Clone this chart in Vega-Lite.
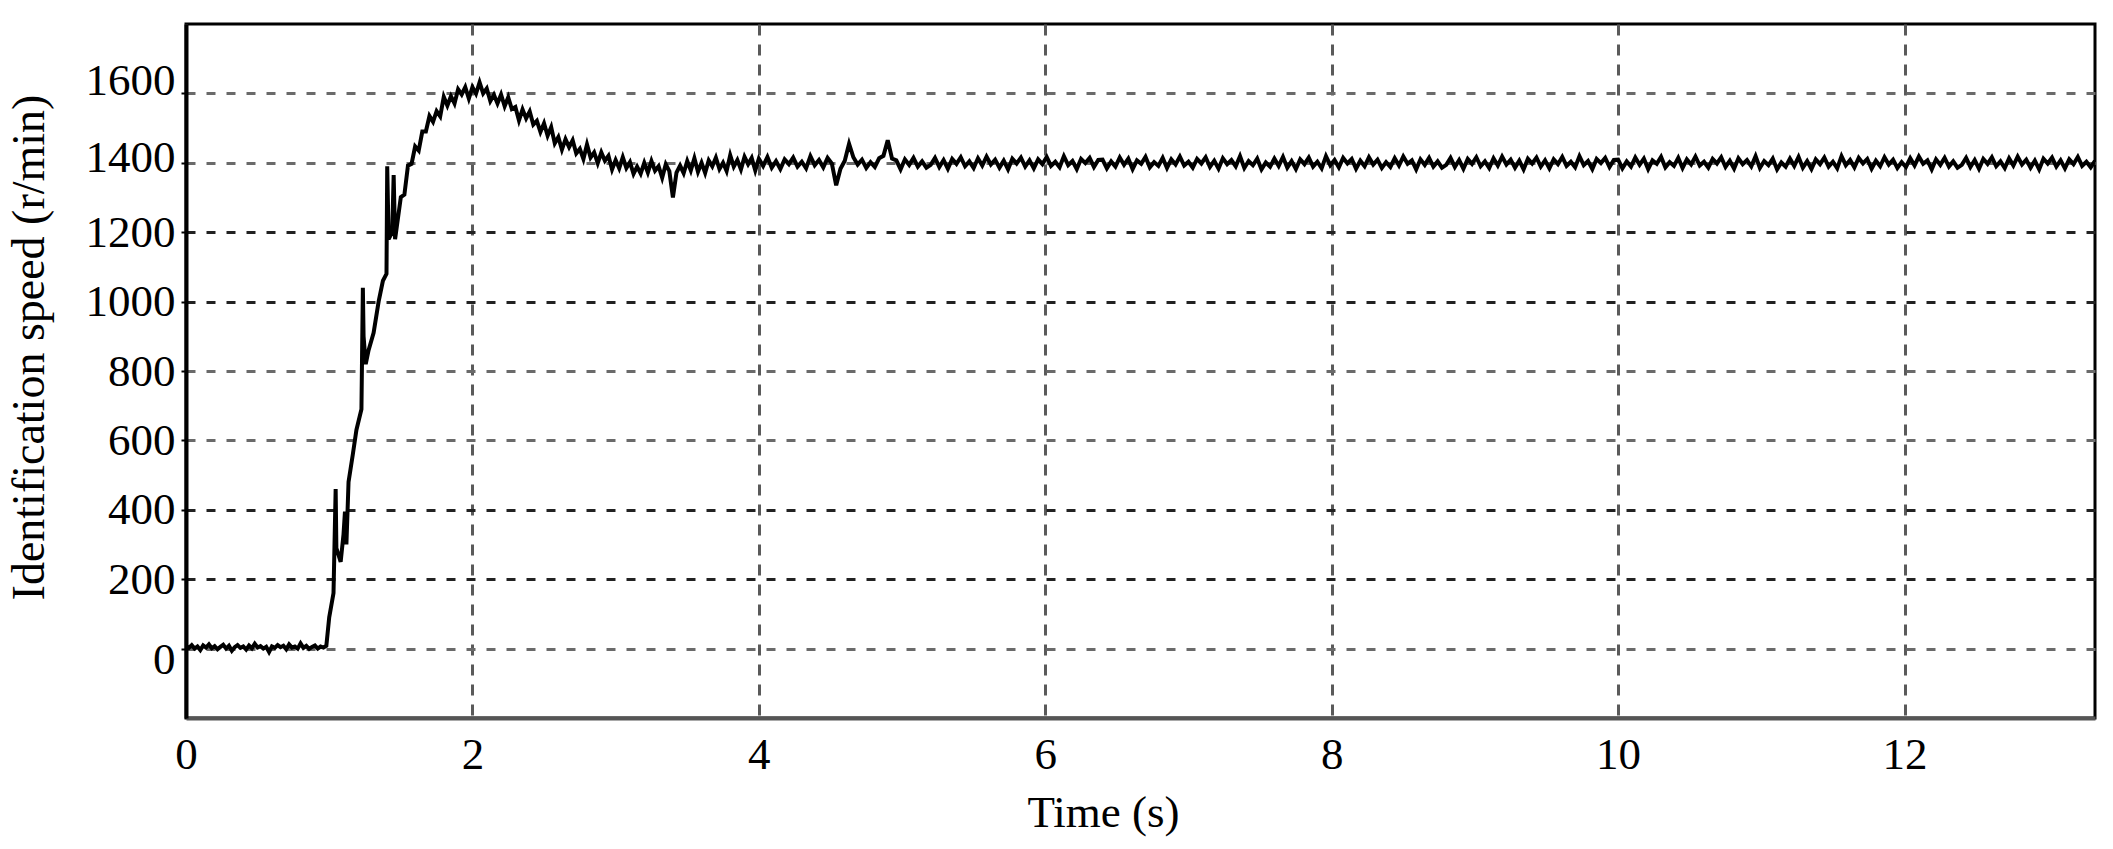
{
  "$schema": "https://vega.github.io/schema/vega-lite/v6.json",
  "width": 1909,
  "height": 694,
  "autosize": {"type": "none"},
  "padding": {"left": 186, "top": 24, "right": 18, "bottom": 131},
  "background": "white",
  "config": {
    "view": {"stroke": "black", "strokeWidth": 3},
    "font": "Liberation Serif"
  },
  "data": {
    "values": [
      {"t":0.00,"v":8},{"t":0.02,"v":2},{"t":0.04,"v":10},{"t":0.06,"v":0},{"t":0.08,"v":6},{"t":0.10,"v":-4},{"t":0.12,"v":9},{"t":0.14,"v":3},{"t":0.16,"v":12},{"t":0.18,"v":1},
      {"t":0.20,"v":7},{"t":0.22,"v":-2},{"t":0.24,"v":5},{"t":0.26,"v":11},{"t":0.28,"v":0},{"t":0.30,"v":8},{"t":0.32,"v":-6},{"t":0.34,"v":4},{"t":0.36,"v":10},{"t":0.38,"v":2},
      {"t":0.40,"v":6},{"t":0.42,"v":-3},{"t":0.44,"v":9},{"t":0.46,"v":1},{"t":0.48,"v":14},{"t":0.50,"v":3},{"t":0.52,"v":7},{"t":0.54,"v":0},{"t":0.56,"v":5},{"t":0.58,"v":-10},
      {"t":0.60,"v":6},{"t":0.62,"v":2},{"t":0.64,"v":10},{"t":0.66,"v":4},{"t":0.68,"v":8},{"t":0.70,"v":-2},{"t":0.72,"v":12},{"t":0.74,"v":3},{"t":0.76,"v":6},{"t":0.78,"v":0},
      {"t":0.80,"v":15},{"t":0.82,"v":2},{"t":0.84,"v":8},{"t":0.86,"v":-1},{"t":0.88,"v":5},{"t":0.90,"v":9},{"t":0.92,"v":0},{"t":0.94,"v":6},{"t":0.96,"v":3},{"t":0.98,"v":8},
      {"t":1.00,"v":90},{"t":1.03,"v":160},{"t":1.045,"v":460},{"t":1.05,"v":290},{"t":1.08,"v":250},{"t":1.10,"v":330},{"t":1.11,"v":395},{"t":1.12,"v":300},{"t":1.135,"v":480},{"t":1.165,"v":560},
      {"t":1.19,"v":630},{"t":1.225,"v":690},{"t":1.235,"v":1040},{"t":1.24,"v":900},{"t":1.255,"v":820},{"t":1.275,"v":860},{"t":1.31,"v":910},{"t":1.345,"v":1000},{"t":1.375,"v":1060},{"t":1.40,"v":1080},
      {"t":1.405,"v":1390},{"t":1.415,"v":1180},{"t":1.44,"v":1200},{"t":1.45,"v":1365},{"t":1.46,"v":1180},{"t":1.48,"v":1240},
      {"t":1.500,"v":1301},{"t":1.525,"v":1308},{"t":1.550,"v":1392},{"t":1.575,"v":1397},{"t":1.600,"v":1447},{"t":1.625,"v":1435},{"t":1.650,"v":1490},{"t":1.675,"v":1490},{"t":1.700,"v":1535},{"t":1.725,"v":1518},
      {"t":1.750,"v":1549},{"t":1.775,"v":1534},{"t":1.800,"v":1590},{"t":1.825,"v":1565},{"t":1.850,"v":1592},{"t":1.875,"v":1571},{"t":1.900,"v":1612},{"t":1.925,"v":1597},{"t":1.950,"v":1618},{"t":1.975,"v":1585},
      {"t":2.000,"v":1618},{"t":2.025,"v":1599},{"t":2.050,"v":1632},{"t":2.075,"v":1600},{"t":2.100,"v":1614},{"t":2.125,"v":1578},{"t":2.150,"v":1596},{"t":2.175,"v":1571},{"t":2.200,"v":1597},{"t":2.225,"v":1563},
      {"t":2.250,"v":1589},{"t":2.275,"v":1555},{"t":2.300,"v":1561},{"t":2.325,"v":1522},{"t":2.350,"v":1554},{"t":2.375,"v":1528},{"t":2.400,"v":1548},{"t":2.425,"v":1510},{"t":2.450,"v":1521},{"t":2.475,"v":1489},
      {"t":2.500,"v":1514},{"t":2.525,"v":1478},{"t":2.550,"v":1503},{"t":2.575,"v":1456},{"t":2.600,"v":1474},{"t":2.625,"v":1438},{"t":2.650,"v":1468},{"t":2.675,"v":1445},{"t":2.700,"v":1465},{"t":2.725,"v":1427},
      {"t":2.750,"v":1440},{"t":2.775,"v":1411},{"t":2.800,"v":1453},{"t":2.825,"v":1415},{"t":2.850,"v":1430},{"t":2.875,"v":1399},{"t":2.900,"v":1430},{"t":2.925,"v":1406},{"t":2.950,"v":1420},{"t":2.975,"v":1381},
      {"t":3.000,"v":1408},{"t":3.025,"v":1384},{"t":3.050,"v":1416},{"t":3.075,"v":1385},{"t":3.100,"v":1402},{"t":3.125,"v":1368},{"t":3.150,"v":1389},{"t":3.175,"v":1369},{"t":3.200,"v":1400},{"t":3.225,"v":1372},
      {"t":3.250,"v":1405},{"t":3.275,"v":1377},{"t":3.300,"v":1390},{"t":3.325,"v":1357},{"t":3.350,"v":1396},{"t":3.375,"v":1376},{"t":3.400,"v":1300},{"t":3.425,"v":1372},{"t":3.450,"v":1392},{"t":3.475,"v":1370},
      {"t":3.500,"v":1405},{"t":3.525,"v":1378},{"t":3.550,"v":1413},{"t":3.575,"v":1374},{"t":3.600,"v":1400},{"t":3.625,"v":1371},{"t":3.650,"v":1407},{"t":3.675,"v":1390},{"t":3.700,"v":1415},{"t":3.725,"v":1382},
      {"t":3.750,"v":1400},{"t":3.775,"v":1376},{"t":3.800,"v":1422},{"t":3.825,"v":1389},{"t":3.850,"v":1408},{"t":3.875,"v":1381},{"t":3.900,"v":1417},{"t":3.925,"v":1396},{"t":3.950,"v":1414},{"t":3.975,"v":1378},
      {"t":4.00,"v":1412},{"t":4.03,"v":1391},{"t":4.06,"v":1417},{"t":4.09,"v":1386},{"t":4.12,"v":1405},{"t":4.15,"v":1382},{"t":4.18,"v":1410},{"t":4.21,"v":1396},{"t":4.24,"v":1415},{"t":4.27,"v":1389},
      {"t":4.30,"v":1403},{"t":4.33,"v":1384},{"t":4.36,"v":1419},{"t":4.39,"v":1393},{"t":4.42,"v":1408},{"t":4.45,"v":1387},{"t":4.48,"v":1414},{"t":4.51,"v":1398},{"t":4.54,"v":1335},{"t":4.57,"v":1383},
      {"t":4.60,"v":1406},{"t":4.63,"v":1455},{"t":4.66,"v":1416},{"t":4.69,"v":1395},{"t":4.72,"v":1409},{"t":4.75,"v":1385},{"t":4.78,"v":1402},{"t":4.81,"v":1388},{"t":4.84,"v":1413},{"t":4.87,"v":1420},
      {"t":4.90,"v":1465},{"t":4.93,"v":1412},{"t":4.96,"v":1407},{"t":4.99,"v":1381},{"t":5.02,"v":1410},{"t":5.05,"v":1394},{"t":5.08,"v":1414},{"t":5.11,"v":1389},{"t":5.14,"v":1404},{"t":5.17,"v":1386},
      {"t":5.20,"v":1394},{"t":5.23,"v":1414},{"t":5.26,"v":1388},{"t":5.29,"v":1408},{"t":5.32,"v":1383},{"t":5.35,"v":1411},{"t":5.38,"v":1397},{"t":5.41,"v":1416},{"t":5.44,"v":1390},{"t":5.47,"v":1404},
      {"t":5.50,"v":1385},{"t":5.53,"v":1413},{"t":5.56,"v":1392},{"t":5.59,"v":1418},{"t":5.62,"v":1395},{"t":5.65,"v":1409},{"t":5.68,"v":1386},{"t":5.71,"v":1406},{"t":5.74,"v":1381},{"t":5.77,"v":1412},
      {"t":5.80,"v":1398},{"t":5.83,"v":1415},{"t":5.86,"v":1389},{"t":5.89,"v":1407},{"t":5.92,"v":1384},{"t":5.95,"v":1410},{"t":5.98,"v":1396},{"t":6.01,"v":1417},{"t":6.04,"v":1391},{"t":6.07,"v":1403},
      {"t":6.10,"v":1387},{"t":6.13,"v":1419},{"t":6.16,"v":1393},{"t":6.19,"v":1405},{"t":6.22,"v":1382},{"t":6.25,"v":1411},{"t":6.28,"v":1399},{"t":6.31,"v":1414},{"t":6.34,"v":1388},{"t":6.37,"v":1408},
      {"t":6.40,"v":1409},{"t":6.43,"v":1384},{"t":6.46,"v":1404},{"t":6.49,"v":1389},{"t":6.52,"v":1415},{"t":6.55,"v":1394},{"t":6.58,"v":1412},{"t":6.61,"v":1382},{"t":6.64,"v":1407},{"t":6.67,"v":1397},
      {"t":6.70,"v":1417},{"t":6.73,"v":1387},{"t":6.76,"v":1402},{"t":6.79,"v":1391},{"t":6.82,"v":1414},{"t":6.85,"v":1385},{"t":6.88,"v":1410},{"t":6.91,"v":1395},{"t":6.94,"v":1418},{"t":6.97,"v":1392},
      {"t":7.00,"v":1403},{"t":7.03,"v":1386},{"t":7.06,"v":1411},{"t":7.09,"v":1398},{"t":7.12,"v":1416},{"t":7.15,"v":1388},{"t":7.18,"v":1406},{"t":7.21,"v":1383},{"t":7.24,"v":1413},{"t":7.27,"v":1396},
      {"t":7.30,"v":1408},{"t":7.33,"v":1390},{"t":7.36,"v":1419},{"t":7.39,"v":1385},{"t":7.42,"v":1405},{"t":7.45,"v":1393},{"t":7.48,"v":1412},{"t":7.51,"v":1381},{"t":7.54,"v":1401},{"t":7.57,"v":1389},
      {"t":7.60,"v":1412},{"t":7.63,"v":1391},{"t":7.66,"v":1417},{"t":7.69,"v":1386},{"t":7.72,"v":1405},{"t":7.75,"v":1382},{"t":7.78,"v":1410},{"t":7.81,"v":1396},{"t":7.84,"v":1415},{"t":7.87,"v":1389},
      {"t":7.90,"v":1403},{"t":7.93,"v":1384},{"t":7.96,"v":1419},{"t":7.99,"v":1393},{"t":8.02,"v":1408},{"t":8.05,"v":1387},{"t":8.08,"v":1414},{"t":8.11,"v":1398},{"t":8.14,"v":1411},{"t":8.17,"v":1383},
      {"t":8.20,"v":1406},{"t":8.23,"v":1390},{"t":8.26,"v":1416},{"t":8.29,"v":1395},{"t":8.32,"v":1409},{"t":8.35,"v":1385},{"t":8.38,"v":1402},{"t":8.41,"v":1388},{"t":8.44,"v":1413},{"t":8.47,"v":1392},
      {"t":8.50,"v":1418},{"t":8.53,"v":1397},{"t":8.56,"v":1407},{"t":8.59,"v":1381},{"t":8.62,"v":1410},{"t":8.65,"v":1394},{"t":8.68,"v":1414},{"t":8.71,"v":1389},{"t":8.74,"v":1404},{"t":8.77,"v":1386},
      {"t":8.80,"v":1394},{"t":8.83,"v":1414},{"t":8.86,"v":1388},{"t":8.89,"v":1408},{"t":8.92,"v":1383},{"t":8.95,"v":1411},{"t":8.98,"v":1397},{"t":9.01,"v":1416},{"t":9.04,"v":1390},{"t":9.07,"v":1404},
      {"t":9.10,"v":1385},{"t":9.13,"v":1413},{"t":9.16,"v":1392},{"t":9.19,"v":1418},{"t":9.22,"v":1395},{"t":9.25,"v":1409},{"t":9.28,"v":1386},{"t":9.31,"v":1406},{"t":9.34,"v":1381},{"t":9.37,"v":1412},
      {"t":9.40,"v":1398},{"t":9.43,"v":1415},{"t":9.46,"v":1389},{"t":9.49,"v":1407},{"t":9.52,"v":1384},{"t":9.55,"v":1410},{"t":9.58,"v":1396},{"t":9.61,"v":1417},{"t":9.64,"v":1391},{"t":9.67,"v":1403},
      {"t":9.70,"v":1387},{"t":9.73,"v":1419},{"t":9.76,"v":1393},{"t":9.79,"v":1405},{"t":9.82,"v":1382},{"t":9.85,"v":1411},{"t":9.88,"v":1399},{"t":9.91,"v":1414},{"t":9.94,"v":1388},{"t":9.97,"v":1408},
      {"t":10.00,"v":1409},{"t":10.03,"v":1384},{"t":10.06,"v":1404},{"t":10.09,"v":1389},{"t":10.12,"v":1415},{"t":10.15,"v":1394},{"t":10.18,"v":1412},{"t":10.21,"v":1382},{"t":10.24,"v":1407},{"t":10.27,"v":1397},
      {"t":10.30,"v":1417},{"t":10.33,"v":1387},{"t":10.36,"v":1402},{"t":10.39,"v":1391},{"t":10.42,"v":1414},{"t":10.45,"v":1385},{"t":10.48,"v":1410},{"t":10.51,"v":1395},{"t":10.54,"v":1418},{"t":10.57,"v":1392},
      {"t":10.60,"v":1403},{"t":10.63,"v":1386},{"t":10.66,"v":1411},{"t":10.69,"v":1398},{"t":10.72,"v":1416},{"t":10.75,"v":1388},{"t":10.78,"v":1406},{"t":10.81,"v":1383},{"t":10.84,"v":1413},{"t":10.87,"v":1396},
      {"t":10.90,"v":1408},{"t":10.93,"v":1390},{"t":10.96,"v":1419},{"t":10.99,"v":1385},{"t":11.02,"v":1405},{"t":11.05,"v":1393},{"t":11.08,"v":1412},{"t":11.11,"v":1381},{"t":11.14,"v":1401},{"t":11.17,"v":1389},
      {"t":11.20,"v":1412},{"t":11.23,"v":1391},{"t":11.26,"v":1417},{"t":11.29,"v":1386},{"t":11.32,"v":1405},{"t":11.35,"v":1382},{"t":11.38,"v":1410},{"t":11.41,"v":1396},{"t":11.44,"v":1415},{"t":11.47,"v":1389},
      {"t":11.50,"v":1403},{"t":11.53,"v":1384},{"t":11.56,"v":1419},{"t":11.59,"v":1393},{"t":11.62,"v":1408},{"t":11.65,"v":1387},{"t":11.68,"v":1414},{"t":11.71,"v":1398},{"t":11.74,"v":1411},{"t":11.77,"v":1383},
      {"t":11.80,"v":1406},{"t":11.83,"v":1390},{"t":11.86,"v":1416},{"t":11.89,"v":1395},{"t":11.92,"v":1409},{"t":11.95,"v":1385},{"t":11.98,"v":1402},{"t":12.01,"v":1388},{"t":12.04,"v":1413},{"t":12.07,"v":1392},
      {"t":12.10,"v":1418},{"t":12.13,"v":1397},{"t":12.16,"v":1407},{"t":12.19,"v":1381},{"t":12.22,"v":1410},{"t":12.25,"v":1394},{"t":12.28,"v":1414},{"t":12.31,"v":1389},{"t":12.34,"v":1404},{"t":12.37,"v":1386},
      {"t":12.40,"v":1394},{"t":12.43,"v":1414},{"t":12.46,"v":1388},{"t":12.49,"v":1408},{"t":12.52,"v":1383},{"t":12.55,"v":1411},{"t":12.58,"v":1397},{"t":12.61,"v":1416},{"t":12.64,"v":1390},{"t":12.67,"v":1404},
      {"t":12.70,"v":1385},{"t":12.73,"v":1413},{"t":12.76,"v":1392},{"t":12.79,"v":1418},{"t":12.82,"v":1395},{"t":12.85,"v":1409},{"t":12.88,"v":1386},{"t":12.91,"v":1406},{"t":12.94,"v":1381},{"t":12.97,"v":1412},
      {"t":13.00,"v":1398},{"t":13.03,"v":1415},{"t":13.06,"v":1389},{"t":13.09,"v":1407},{"t":13.12,"v":1384},{"t":13.15,"v":1410},{"t":13.18,"v":1396},{"t":13.21,"v":1417},{"t":13.24,"v":1391},{"t":13.27,"v":1403},
      {"t":13.30,"v":1387},{"t":13.33,"v":1406}
    ]
  },
  "mark": {"type": "line", "color": "black", "strokeWidth": 4, "strokeJoin": "miter", "clip": true},
  "encoding": {
    "x": {
      "field": "t",
      "type": "quantitative",
      "scale": {"domain": [0, 13.33], "nice": false, "zero": false},
      "axis": {
        "title": "Time (s)",
        "values": [0, 2, 4, 6, 8, 10, 12],
        "format": "d",
        "labelFont": "Liberation Serif",
        "labelFontSize": 45,
        "labelColor": "black",
        "labelPadding": 14,
        "labelFlush": false,
        "ticks": false,
        "domainColor": "#555555",
        "domainWidth": 4,
        "grid": true,
        "gridColor": "#5a5a5a",
        "gridWidth": 3,
        "gridDash": [11, 9],
        "gridOpacity": 1,
        "titleFont": "Liberation Serif",
        "titleFontSize": 45,
        "titleFontWeight": "normal",
        "titleColor": "black",
        "titleX": 917,
        "titleY": 108,
        "titleBaseline": "alphabetic",
        "titleAlign": "center"
      }
    },
    "y": {
      "field": "v",
      "type": "quantitative",
      "scale": {"domain": [-200, 1800], "nice": false, "zero": false},
      "axis": {
        "title": "Identification speed (r/min)",
        "values": [0, 200, 400, 600, 800, 1000, 1200, 1400, 1600],
        "format": "d",
        "labelFont": "Liberation Serif",
        "labelFontSize": 45,
        "labelColor": "black",
        "labelPadding": 6,
        "labelOffset": {
          "condition": [
            {"test": "datum.value === 1600", "value": -13},
            {"test": "datum.value === 1400", "value": -5},
            {"test": "datum.value === 0", "value": 11}
          ],
          "value": 0
        },
        "tickSize": 5,
        "tickWidth": 2,
        "tickColor": "black",
        "domainColor": "black",
        "domainWidth": 4,
        "grid": true,
        "gridColor": {
          "condition": {"test": "datum.value === 200 || datum.value === 400 || datum.value === 1000 || datum.value === 1200", "value": "#222222"},
          "value": "#6a6a6a"
        },
        "gridWidth": 3,
        "gridDash": [9, 11],
        "gridOpacity": 1,
        "titleFont": "Liberation Serif",
        "titleFontSize": 46,
        "titleFontWeight": "normal",
        "titleColor": "black",
        "titleAngle": -90,
        "titleX": -143,
        "titleY": 323,
        "titleBaseline": "alphabetic",
        "titleAlign": "center"
      }
    }
  }
}
